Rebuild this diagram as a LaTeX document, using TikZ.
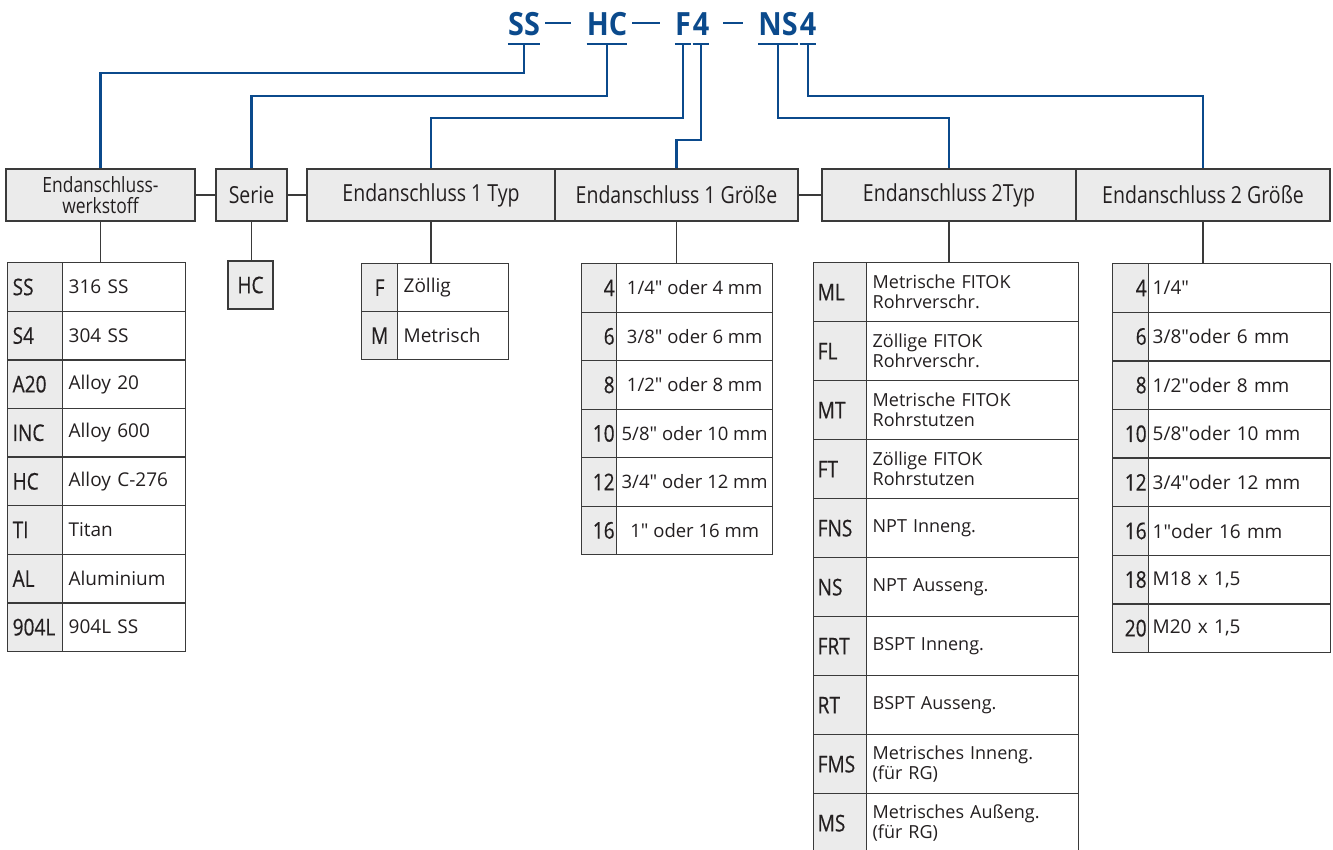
\documentclass[tikz,border=0pt]{standalone}
\usepackage{fontspec}
\setmainfont{Open Sans}
\newfontfamily\condfont[FakeStretch=0.83]{Open Sans}
\newfontfamily\codefont[FakeStretch=0.83,FakeBold=0.4]{Open Sans}
\newfontfamily\partfont[FakeStretch=0.9]{Open Sans}
\font\inchfont="Open Sans" at 19pt
\newcommand\inch{{\inchfont\char"22}}
\usetikzlibrary{calc}
\definecolor{fitblue}{HTML}{0B4A8C}
\definecolor{ink}{HTML}{231F20}
\definecolor{frame}{HTML}{3A3A3A}
\definecolor{cellgray}{HTML}{EBEBEB}
\tikzset{
  hdr/.style={rectangle,draw=frame,fill=cellgray,line width=1.3pt,minimum height=52pt,inner sep=0pt,
              text=ink,align=center,font=\condfont\fontsize{23.5}{21}\selectfont},
  codecell/.style={rectangle,draw=frame,fill=cellgray,line width=1.3pt,anchor=north west,inner xsep=6pt,
                   inner ysep=0pt,text=ink,align=left,font=\codefont\fontsize{23}{22}\selectfont},
  desccell/.style={rectangle,draw=frame,fill=white,line width=1.3pt,anchor=north west,inner xsep=6pt,
                   inner ysep=0pt,text=ink,align=left,font=\fontsize{19}{21}\selectfont},
  stem/.style={draw=frame,line width=1.3pt},
  link/.style={draw=fitblue,line width=2.3pt},
  tick/.style={draw=fitblue,line width=1.8pt},
  part/.style={inner sep=0pt,anchor=base,text=fitblue,font=\partfont\bfseries\fontsize{32}{32}\selectfont},
}
\begin{document}
\begin{tikzpicture}[x=1pt,y=-1pt]
\useasboundingbox (0,0) rectangle (1333,849);
% order code
\node[part] (pSS) at (524,35) {SS};
\node[part] (pHC) at (607,35) {HC};
\node[part] (pF) at (683,35) {F};
\node[part] (p4a) at (701,35) {4};
\node[part] (pNS) at (778,35) {NS};
\node[part] (p4b) at (808,35) {4};
\draw[tick] ([shift={(5pt,12pt)}]pSS.base east) -- ([shift={(-16pt,12pt)}]pHC.base west);
\draw[tick] ([shift={(5pt,12pt)}]pHC.base east) -- ([shift={(-15pt,12pt)}]pF.base west);
\draw[tick] ([shift={(14pt,12pt)}]p4a.base east) -- ([shift={(-15pt,12pt)}]pNS.base west);
\foreach \p in {pSS,pHC,pF,p4a,pNS,p4b}
  \draw[tick] ([yshift=-9pt]\p.base west) -- ([yshift=-9pt]\p.base east);
% headers
\node[hdr,minimum width=189pt,font=\condfont\fontsize{21}{21}\selectfont] (wst) at (100.5,195) {Endanschluss-\\werkstoff};
\node[hdr,minimum width=71pt] (ser) at (251.5,195) {Serie};
\node[hdr,minimum width=248pt] (typ1) at (431,195) {Endanschluss 1 Typ};
\node[hdr,minimum width=243pt] (gr1) at (676.5,195) {Endanschluss 1 Größe};
\node[hdr,minimum width=254pt] (typ2) at (949,195) {Endanschluss 2Typ};
\node[hdr,minimum width=254pt] (gr2) at (1203,195) {Endanschluss 2 Größe};
\draw[stem] (wst.east) -- (ser.west);
\draw[stem] (ser.east) -- (typ1.west);
\draw[stem] (gr1.east) -- (typ2.west);
% links from code to headers
\draw[link] ([yshift=-9pt]pSS.base) -- ++(0,29) -| (wst.north);
\draw[link] ([yshift=-9pt]pHC.base) -- ++(0,52) -| (ser.north);
\draw[link] ([yshift=-9pt]pF.base) -- ++(0,74) -| (typ1.north);
\draw[link] ([yshift=-9pt]p4a.base) -- ++(0,96) -| (gr1.north);
\draw[link] ([yshift=-9pt]pNS.base) -- ++(0,74) -| (typ2.north);
\draw[link] ([yshift=-9pt]p4b.base) -- ++(0,52) -| (gr2.north);
% werkstoff
\foreach \c/\t [count=\i] in {SS/316 SS, S4/304 SS, A20/Alloy 20, INC/Alloy 600, HC/Alloy C-276,
                              TI/Titan, AL/Aluminium, 904L/904L SS}{
  \node[codecell,minimum width=55pt,minimum height=48.6pt,text width=45pt,inner xsep=5pt] (mat-c\i) at (7,{262+(\i-1)*48.6}) {\c};
  \node[desccell,minimum width=123pt,minimum height=48.6pt,text width=111pt] (mat-t\i) at (62,{262+(\i-1)*48.6}) {\t};
}
% serie
\node[codecell,anchor=center,minimum width=45pt,minimum height=48pt,align=center] (ser-c1) at (250.5,285) {HC};
% typ 1
\foreach \c/\t [count=\i] in {F/Zöllig, M/Metrisch}{
  \node[codecell,minimum width=36pt,minimum height=48pt,text width=24pt,align=center] (ty1-c\i) at (361,{263+(\i-1)*48}) {\c};
  \node[desccell,minimum width=111pt,minimum height=48pt,text width=99pt] (ty1-t\i) at (397,{263+(\i-1)*48}) {\t};
}
% groesse 1
\foreach \c/\t [count=\i] in {4/{1/4\inch{} oder 4 mm}, 6/{3/8\inch{} oder 6 mm}, 8/{1/2\inch{} oder 8 mm},
                              10/{5/8\inch{} oder 10 mm}, 12/{3/4\inch{} oder 12 mm}, 16/{1\inch{} oder 16 mm}}{
  \node[codecell,minimum width=35pt,minimum height=48.5pt,text width=31pt,inner xsep=2pt,align=right] (gr1-c\i) at (581,{263+(\i-1)*48.5}) {\c};
  \node[desccell,minimum width=156pt,minimum height=48.5pt,inner xsep=1pt,align=center,font=\fontsize{18.5}{21}\selectfont] (gr1-t\i) at (616,{263+(\i-1)*48.5}) {\t};
}
% typ 2
\foreach \c/\t [count=\i] in {ML/{Metrische FITOK\\Rohrverschr.}, FL/{Zöllige FITOK\\Rohrverschr.},
                              MT/{Metrische FITOK\\Rohrstutzen}, FT/{Zöllige FITOK\\Rohrstutzen},
                              FNS/NPT Inneng., NS/NPT Ausseng., FRT/BSPT Inneng., RT/BSPT Ausseng.,
                              FMS/{Metrisches Inneng.\\(für RG)}, MS/{Metrisches Außeng.\\(für RG)}}{
  \node[codecell,minimum width=53pt,minimum height=59pt,text width=45pt,inner xsep=4pt] (ty2-c\i) at (813,{262+(\i-1)*59}) {\c};
  \node[desccell,minimum width=212pt,minimum height=59pt,text width=200pt,font=\fontsize{18}{20}\selectfont] (ty2-t\i) at (866,{262+(\i-1)*59}) {\t};
}
% groesse 2
\foreach \c/\t [count=\i] in {4/{1/4\inch}, 6/{3/8\inch oder 6 mm}, 8/{1/2\inch oder 8 mm}, 10/{5/8\inch oder 10 mm},
                              12/{3/4\inch oder 12 mm}, 16/{1\inch oder 16 mm}, 18/{M18 x 1,5}, 20/{M20 x 1,5}}{
  \node[codecell,minimum width=36pt,minimum height=48.6pt,text width=32pt,inner xsep=2pt,align=right] (gr2-c\i) at (1112,{263+(\i-1)*48.6}) {\c};
  \node[desccell,minimum width=182pt,minimum height=48.6pt,text width=174pt,inner xsep=4pt] (gr2-t\i) at (1148,{263+(\i-1)*48.6}) {\t};
}
% stems
\draw[stem] (wst.south) -- (wst.south |- mat-c1.north);
\draw[stem] (ser.south) -- (ser.south |- ser-c1.north);
\draw[stem] (typ1.south) -- (typ1.south |- ty1-c1.north);
\draw[stem] (gr1.south) -- (gr1.south |- gr1-c1.north);
\draw[stem] (typ2.south) -- (typ2.south |- ty2-c1.north);
\draw[stem] (gr2.south) -- (gr2.south |- gr2-c1.north);
\end{tikzpicture}
\end{document}
